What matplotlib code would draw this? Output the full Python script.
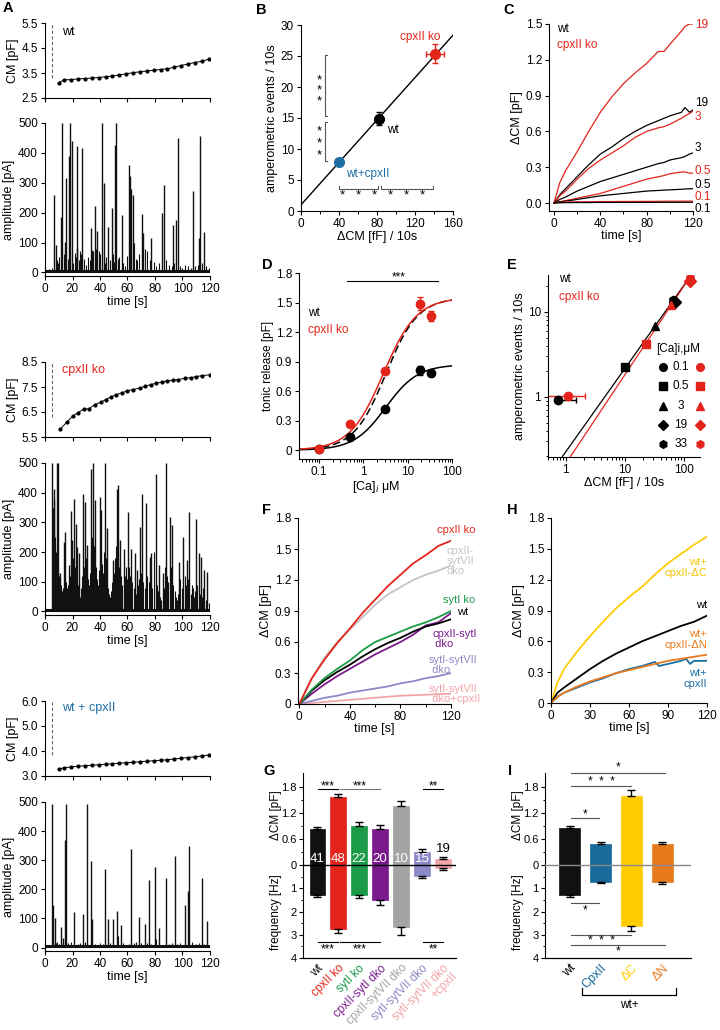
import matplotlib
matplotlib.use('Agg')
import matplotlib.pyplot as plt
import numpy as np
from matplotlib.ticker import MultipleLocator, FixedLocator, LogLocator, NullFormatter

plt.rcParams['font.family'] = ['Liberation Sans', 'DejaVu Sans']
plt.rcParams['font.size'] = 8.5
plt.rcParams['axes.linewidth'] = 0.8
for a in ('xtick', 'ytick'):
    plt.rcParams[a + '.major.size'] = 3
    plt.rcParams[a + '.minor.size'] = 1.8
    plt.rcParams[a + '.major.width'] = 0.8
    plt.rcParams[a + '.minor.width'] = 0.7
    plt.rcParams[a + '.labelsize'] = 8.5
    plt.rcParams[a + '.major.pad'] = 2
plt.rcParams['axes.labelsize'] = 9
plt.rcParams['axes.labelpad'] = 2

# ---------------------------------------------------------------- colours
RED = '#e3241b'; BLUE = '#1d6fa3'; GREEN = '#1b9a48'; PURPLE = '#7a1a8c'
LGREY = '#c4c4c4'; GREY = '#a3a3a3'; LAV = '#8c89c7'; PINK = '#f2a5a8'
YEL = '#ffcc00'; ORA = '#e87a1e'

# ---------------------------------------------------------------- DATA
# Panel A : membrane capacitance traces
cm_time = [10, 14, 19, 24, 29, 34, 39, 44, 49, 54, 59, 64, 69, 74, 79, 84, 89, 94, 99, 104, 109, 114, 119]
wt_cm = [3.12, 3.22, 3.24, 3.26, 3.28, 3.30, 3.32, 3.35, 3.38, 3.42, 3.47, 3.51, 3.55, 3.58, 3.61,
         3.64, 3.67, 3.73, 3.80, 3.86, 3.92, 3.97, 4.05]
ko_cm_time = [11, 16, 20, 24, 28, 32, 36, 41, 44, 48, 52, 56, 60, 64, 69, 73, 77, 81, 85, 89, 93, 97,
              102, 106, 110, 114, 120]
ko_cm = [5.81, 6.10, 6.33, 6.47, 6.61, 6.63, 6.79, 6.90, 7.00, 7.10, 7.20, 7.27, 7.35, 7.40, 7.46,
         7.53, 7.60, 7.65, 7.70, 7.74, 7.77, 7.80, 7.85, 7.87, 7.92, 7.95, 7.99]
wc_cm = [3.28, 3.33, 3.36, 3.39, 3.41, 3.43, 3.45, 3.47, 3.49, 3.51, 3.53, 3.55, 3.57, 3.59, 3.61,
         3.63, 3.65, 3.68, 3.71, 3.74, 3.77, 3.80, 3.84]
stim_time = 5
amp_baseline = 5

# Panel A : amperometric spikes (time s, amplitude pA)
wt_spikes = [(6.5, 259), (7.8, 91), (11.6, 187), (12.6, 500), (14.5, 102), (15.3, 317), (17.7, 391),
             (18.2, 500), (19.6, 440), (23.0, 424), (23.5, 83), (26.5, 60), (27.2, 417), (33.2, 147),
             (36.1, 222), (38.0, 137), (41.2, 500), (42.7, 300), (45.8, 152), (48.5, 215), (51.0, 428),
             (52.0, 500), (55.8, 191), (61.0, 359), (61.8, 322), (62.5, 278), (63.8, 259), (70.3, 194),
             (71.5, 133), (77.3, 115), (84.8, 200), (86.3, 291), (93.3, 157), (95.0, 175), (96.7, 450),
             (107.4, 272), (112.0, 114), (113.0, 455), (115.6, 136)]
wt_small = [(3, 10), (5, 15), (8.5, 40), (9.5, 30), (10.5, 50), (13.5, 60), (16.5, 45), (20.5, 30),
            (21.5, 65), (22.5, 50), (24.5, 40), (25.5, 70), (28.5, 45), (30, 25), (31.5, 50), (32.5, 40),
            (34, 75), (35, 70), (37, 80), (39, 70), (40, 60), (43.5, 30), (44.5, 50), (47, 40), (49.5, 60),
            (50, 35), (53, 45), (54, 50), (57, 30), (58.5, 20), (60, 55), (64.5, 100), (66, 45), (67, 40),
            (68.5, 60), (72.5, 80), (74, 70), (76, 40), (79, 35), (81, 20), (83, 30), (88, 40), (90, 25),
            (92, 20), (94, 30), (98, 20), (100, 15), (102, 25), (104, 20), (106, 15), (109, 20), (111, 25),
            (114.5, 30), (117, 20), (119, 15)]
ko_spikes = [(5.3, 500), (6.3, 414), (6.8, 380), (8.5, 500), (9.7, 500), (10.9, 128), (13.8, 235),
             (14.5, 268), (17.4, 157), (18.6, 338), (19.6, 240), (21.0, 380), (22.5, 296), (23.4, 218),
             (24.4, 196), (27.8, 397), (29.0, 369), (30.7, 225), (33.8, 481), (35.0, 500), (36.2, 375),
             (39.9, 386), (41.0, 341), (43.5, 500), (45.2, 280), (49.5, 173), (52.4, 414), (53.4, 425),
             (54.8, 240), (57.2, 212), (60.4, 336), (62.8, 212), (65.2, 196), (66.9, 140), (68.8, 285),
             (70.8, 397), (73.7, 364), (76.0, 185), (77.3, 196), (80.4, 464), (82.8, 157), (85.7, 128),
             (88.2, 500), (90.6, 319), (92.5, 291), (97.8, 168), (100.7, 252), (103.4, 173), (105.0, 336),
             (109.9, 313), (111.8, 196), (113.5, 185), (116.0, 140), (118.0, 134)]
ko_small = [(5.6, 350), (6.0, 300), (7.0, 250), (7.4, 230), (7.8, 200), (8.2, 180), (9.0, 160), (9.3, 150),
            (10.2, 120), (10.6, 110), (11.3, 90), (11.8, 80), (12.3, 70), (12.8, 60), (13.3, 80), (15.2, 100),
            (15.8, 80), (16.4, 70), (17.0, 90), (18.0, 120), (19.2, 150), (20.3, 180), (21.6, 150),
            (22.0, 120), (23.0, 100), (24.0, 90), (25.0, 60), (25.6, 50), (26.3, 80), (27.0, 120),
            (28.4, 150), (29.6, 180), (30.2, 120), (31.3, 110), (32.0, 90), (32.6, 130), (33.2, 200),
            (34.4, 250), (35.6, 220), (36.8, 150), (37.5, 110), (38.3, 90), (39.0, 140), (40.4, 180),
            (41.6, 160), (42.3, 130), (43.0, 200), (44.0, 180), (44.6, 120), (46.0, 80), (46.8, 60),
            (47.5, 50), (48.3, 70), (49.0, 100), (50.2, 130), (51.0, 180), (51.7, 220), (52.8, 200),
            (54.0, 150), (55.5, 120), (56.3, 90), (58.0, 120), (58.8, 150), (59.6, 110), (61.2, 150),
            (62.0, 120), (63.6, 100), (64.4, 80), (66.0, 60), (67.6, 90), (68.2, 110), (69.5, 130),
            (71.5, 100), (72.5, 80), (74.5, 120), (75.3, 100), (78.0, 80), (79.0, 200), (81.3, 90),
            (82.0, 70), (83.6, 50), (84.5, 40), (86.5, 80), (87.3, 150), (89.0, 120), (89.7, 100),
            (91.3, 150), (93.3, 90), (94.2, 70), (95.0, 50), (96.0, 40), (97.0, 60), (98.5, 110), (99.3, 80),
            (101.5, 120), (102.2, 90), (104.2, 110), (106.0, 60), (106.8, 90), (107.7, 80), (108.5, 50),
            (109.2, 70), (110.6, 90), (112.5, 60), (114.2, 50), (115.0, 80), (117.0, 40), (119.0, 30)]
wc_spikes = [(4.8, 492), (6.0, 145), (7.0, 100), (11.6, 71), (12.8, 32), (14.5, 368), (15.0, 492),
             (21.0, 122), (27.8, 114), (30.2, 492), (33.8, 297), (34.5, 97), (43.5, 271), (45.9, 99),
             (49.5, 99), (52.4, 124), (55.6, 77), (62.8, 340), (68.4, 105), (72.4, 82), (75.6, 232),
             (79.7, 278), (82.8, 68), (87.7, 238), (94.7, 314), (101.9, 145), (104.0, 195), (104.6, 348),
             (114.4, 238), (118.0, 90)]
wc_small = [(3, 10), (8, 15), (9, 20), (10, 12), (17, 15), (19, 20), (24, 12), (25.5, 15), (29, 20), (36, 12),
            (38, 10), (40, 15), (42, 12), (47, 15), (53, 40), (57, 15), (59, 10), (61, 12), (65, 15),
            (66.5, 20), (70, 15), (74, 15), (77, 12), (81, 30), (85, 10), (90, 12), (92, 15), (96, 12),
            (98, 15), (100, 10), (107, 18), (110, 12), (112, 15), (116, 12)]

# Panel B : events vs dCM
b_names = ['wt+cpxII', 'wt', 'cpxII ko']
b_dcm = [40, 82, 141]
b_dcm_err = [2.5, 3, 9]
b_events = [7.9, 14.9, 25.4]
b_events_err = [0.5, 1.0, 1.5]
b_fit = (1.0, 0.171)     # intercept, slope

# Panel C : dCM at various [Ca]i
c_t = [0, 5, 10, 20, 30, 40, 50, 60, 70, 80, 90, 95, 100, 110, 113, 117, 120]
c_ko19 = [0, 0.17, 0.27, 0.43, 0.6, 0.76, 0.89, 1.0, 1.09, 1.17, 1.27, 1.27, 1.33, 1.44, 1.48, 1.5, 1.5]
c_wt19 = [0, 0.07, 0.12, 0.22, 0.32, 0.41, 0.47, 0.54, 0.6, 0.65, 0.69, 0.71, 0.73, 0.76, 0.8, 0.76, 0.78]
c_ko3 = [0, 0.06, 0.1, 0.2, 0.29, 0.36, 0.42, 0.48, 0.55, 0.6, 0.63, 0.64, 0.66, 0.71, 0.73, 0.75, 0.77]
c_wt3 = [0, 0.03, 0.05, 0.1, 0.14, 0.18, 0.21, 0.24, 0.27, 0.3, 0.33, 0.34, 0.36, 0.38, 0.39, 0.41, 0.42]
c_ko05 = [0, 0.01, 0.02, 0.04, 0.06, 0.08, 0.11, 0.14, 0.17, 0.2, 0.22, 0.23, 0.245, 0.26, 0.26, 0.25, 0.25]
c_wt05 = [0, 0.01, 0.015, 0.03, 0.045, 0.06, 0.07, 0.08, 0.09, 0.1, 0.105, 0.108, 0.11, 0.115, 0.117, 0.119, 0.12]
c_ko01 = [0, 0.005, 0.008, 0.01, 0.01, 0.012, 0.012, 0.013, 0.013, 0.014, 0.014, 0.015, 0.015, 0.015, 0.016, 0.016, 0.016]
c_wt01 = [0, 0.002, 0.003, 0.004, 0.004, 0.005, 0.005, 0.005, 0.005, 0.005, 0.006, 0.006, 0.006, 0.006, 0.006, 0.006, 0.006]

# Panel D : tonic release vs [Ca]i
d_ca = [0.1, 0.5, 3, 19, 33]
d_wt = [0.01, 0.13, 0.42, 0.81, 0.78]
d_wt_err = [0.01, 0.02, 0.02, 0.05, 0.03]
d_ko = [0.01, 0.27, 0.80, 1.49, 1.36]
d_ko_err = [0.01, 0.02, 0.03, 0.07, 0.05]
d_fit_wt = (0.87, 3.2, 1.2)      # Vmax, K, n
d_fit_ko = (1.55, 2.8, 1.15)
d_fit_wt_scaled = (1.55, 3.2, 1.2)

# Panel E : events vs dCM (log-log)
e_labels = ['0.1', '0.5', '3', '19', '33']
e_markers = ['o', 's', '^', 'D', 'h']
e_wt_x = [0.75, 9.9, 32, 70, 66]
e_wt_y = [0.92, 2.25, 6.8, 13.0, 14.0]
e_ko_x = [1.09, 22.7, 60, 128, 125]
e_ko_y = [1.02, 4.16, 12.2, 23.0, 25.0]
e_wt_xerr = (0.0, 0.75)
e_ko_xerr = (0.6, 1.0)
e_fit_wt = (0.227, 0.98, 0.88, 150)   # a, b, xmin, xmax
e_fit_ko = (0.165, 1.045, 1.2, 150)

# Panel F
f_t = [0, 10, 20, 30, 40, 50, 60, 70, 80, 90, 100, 110, 120]
f_cpx = [0, 0.25, 0.43, 0.59, 0.73, 0.88, 1.01, 1.14, 1.25, 1.36, 1.44, 1.53, 1.58]
f_cpx_syt7 = [0, 0.25, 0.45, 0.6, 0.72, 0.84, 0.96, 1.06, 1.13, 1.2, 1.25, 1.29, 1.34]
f_syt1 = [0, 0.14, 0.25, 0.34, 0.42, 0.52, 0.6, 0.65, 0.7, 0.75, 0.79, 0.84, 0.9]
f_wt = [0, 0.13, 0.23, 0.31, 0.38, 0.46, 0.53, 0.59, 0.64, 0.7, 0.75, 0.78, 0.82]
f_cpx_syt1 = [0, 0.1, 0.19, 0.27, 0.34, 0.41, 0.48, 0.54, 0.6, 0.67, 0.76, 0.79, 0.88]
f_syt1_syt7 = [0, 0.03, 0.06, 0.08, 0.11, 0.13, 0.15, 0.17, 0.2, 0.22, 0.25, 0.27, 0.3]
f_syt1_syt7_cpx = [0, 0.01, 0.02, 0.03, 0.04, 0.05, 0.06, 0.07, 0.08, 0.085, 0.09, 0.095, 0.1]

# Panel H
h_t = [0, 5, 10, 20, 30, 40, 50, 60, 70, 80, 90, 100, 110, 120]
h_dC = [0, 0.2, 0.33, 0.5, 0.65, 0.79, 0.92, 1.03, 1.13, 1.25, 1.36, 1.45, 1.54, 1.62]
h_wt = [0, 0.1, 0.15, 0.24, 0.33, 0.41, 0.48, 0.54, 0.6, 0.65, 0.7, 0.75, 0.79, 0.85]
h_dN = [0, 0.06, 0.1, 0.16, 0.21, 0.25, 0.29, 0.32, 0.35, 0.38, 0.41, 0.43, 0.45, 0.47]
h_cpx_t = [0, 5, 10, 20, 30, 40, 50, 60, 70, 80, 83, 90, 100, 104, 107, 110, 120]
h_cpx = [0, 0.06, 0.1, 0.15, 0.2, 0.24, 0.29, 0.33, 0.36, 0.40, 0.36, 0.38, 0.41, 0.43, 0.38, 0.41, 0.41]

# Panel G
g_names = ['wt', 'cpxII ko', 'sytI ko', 'cpxII-sytI dko', 'cpxII-sytVII dko', 'sytI-sytVII dko',
           'sytI-sytVII dko\n+cpxII']
g_cols = ['#111111', RED, GREEN, PURPLE, GREY, LAV, PINK]
g_dcm = [0.82, 1.56, 0.89, 0.82, 1.35, 0.30, 0.13]
g_dcm_err = [0.05, 0.08, 0.10, 0.10, 0.13, 0.06, 0.05]
g_freq = [1.30, 2.74, 1.30, 1.50, 2.68, 0.47, 0.15]
g_freq_err = [0.09, 0.17, 0.10, 0.20, 0.34, 0.09, 0.06]
g_n = ['41', '48', '22', '20', '10', '15', '19']

# Panel I
i_names = ['wt', 'CpxII', 'ΔC', 'ΔN']
i_cols = ['#111111', '#1a6a9c', '#ffcc00', '#e87a1e']
i_dcm = [0.85, 0.48, 1.60, 0.48]
i_dcm_err = [0.04, 0.05, 0.14, 0.06]
i_freq = [1.30, 0.72, 2.63, 0.72]
i_freq_err = [0.08, 0.07, 0.23, 0.10]

HZ = 0.5365   # drawing scale of frequency half relative to pF half

# ---------------------------------------------------------------- figure helpers
W, H = 720, 1030
fig = plt.figure(figsize=(W / 100, H / 100), dpi=100)


def axpx(l, t, r, b):
    return fig.add_axes([l / W, 1 - b / H, (r - l) / W, (b - t) / H])


def ftext(x, y, s, **kw):
    fig.text(x / W, 1 - y / H, s, **kw)


def clean(ax):
    ax.spines['top'].set_visible(False)
    ax.spines['right'].set_visible(False)
    ax.patch.set_alpha(0)


for lab, (x, y) in {'A': (3, 8), 'B': (256, 10), 'C': (503, 10), 'D': (262, 265), 'E': (507, 265),
                    'F': (262, 510), 'H': (507, 510), 'G': (263, 771), 'I': (508, 771)}.items():
    ftext(x, y, lab, fontsize=10.5, fontweight='bold', ha='left', va='center')

# ---------------------------------------------------------------- panel A


def panel_a(cm_rect, amp_rect, cmt, cmv, ylim, yt, dash_lo, lab, lab_col, lab_y, spikes, small):
    ax = axpx(*cm_rect)
    clean(ax)
    ax.plot(cmt, cmv, color='k', lw=0.7, marker='o', ms=2.0)
    ax.vlines([stim_time], dash_lo, ylim[1] - 0.05, colors='#666666', linestyles=(0, (3, 2)), lw=0.8)
    ax.set_xlim(0, 120)
    ax.set_ylim(*ylim)
    ax.set_xticks(range(0, 121, 20))
    ax.set_xticklabels([])
    ax.set_yticks(yt)
    ax.set_yticklabels(['%.1f' % v for v in yt])
    ax.set_ylabel('CM [pF]')
    ax.text(0.105, lab_y, lab, color=lab_col, transform=ax.transAxes, fontsize=9, va='center')

    ax2 = axpx(*amp_rect)
    clean(ax2)
    st, sa = zip(*small)
    ax2.vlines(st, amp_baseline, sa, colors='#111111', lw=0.8)
    bt, ba = zip(*spikes)
    ax2.vlines(bt, amp_baseline, ba, colors='#111111', lw=1.0)
    ax2.hlines(amp_baseline, 0, 120, colors='#111111', lw=2.2)
    ax2.set_xlim(0, 120)
    ax2.set_ylim(-12, 500)
    ax2.set_yticks(range(0, 501, 100))
    ax2.set_xticks(range(0, 121, 20))
    ax2.set_xlabel('time [s]', labelpad=1)
    ax2.set_ylabel('amplitude [pA]')


panel_a((45, 23, 210, 98), (45, 123, 210, 276), cm_time, wt_cm, (2.5, 5.5), [2.5, 3.5, 4.5, 5.5], 3.3,
        'wt', 'k', 0.88, wt_spikes, wt_small)
panel_a((45, 362, 210, 437), (45, 463, 210, 615), ko_cm_time, ko_cm, (5.5, 8.5), [5.5, 6.5, 7.5, 8.5], 6.3,
        'cpxII ko', RED, 0.9, ko_spikes, ko_small)
panel_a((45, 701, 210, 776), (45, 802, 210, 951), cm_time, wc_cm, (3.0, 6.0), [3.0, 4.0, 5.0, 6.0], 3.85,
        'wt + cpxII', BLUE, 0.9, wc_spikes, wc_small)

# ---------------------------------------------------------------- panel B
ax = axpx(301, 25, 453, 211)
clean(ax)
xx = np.array([0, 160])
ax.plot(xx, b_fit[0] + b_fit[1] * xx, color='k', lw=1.0)
for i, c in enumerate([BLUE, 'k', RED]):
    ax.errorbar(b_dcm[i], b_events[i], xerr=b_dcm_err[i], yerr=b_events_err[i], fmt='o', color=c,
                ms=7, elinewidth=1, capsize=2, capthick=1, zorder=3)
ax.text(125.8, 28.1, 'cpxII ko', color=RED, ha='center', va='center', fontsize=8.5)
ax.text(91, 13.0, 'wt', color='k', ha='left', va='center', fontsize=8.5)
ax.text(70, 6.0, 'wt+cpxII', color=BLUE, ha='center', va='center', fontsize=8.5)
# significance brackets
for y0, y1 in [(15.3, 25.2), (8.1, 14.3)]:
    ax.plot([27.5, 25.5, 25.5, 27.5], [y0, y0, y1, y1], color='#555555', lw=0.8)
for ys in [(21.6, 19.9, 18.1), (13.3, 11.4, 9.5)]:
    for y in ys:
        ax.text(19.5, y - 0.5, '*', ha='center', va='center', fontsize=9.5)
for x0, x1 in [(40, 81), (84, 139)]:
    ax.plot([x0, x0, x1, x1], [4.1, 3.6, 3.6, 4.1], color='#555555', lw=0.8)
    ax.text((x0 + x1) / 2, 2.4, '*   *   *', ha='center', va='center', fontsize=9.5)
ax.set_xlim(0, 160)
ax.set_ylim(0, 30)
ax.set_xticks(range(0, 161, 40))
ax.xaxis.set_minor_locator(MultipleLocator(20))
ax.set_yticks(range(0, 31, 5))
ax.set_xlabel('ΔCM [fF] / 10s', labelpad=1)
ax.set_ylabel('amperometric events / 10s')

# ---------------------------------------------------------------- panel C
ax = axpx(549, 24, 693, 211)
clean(ax)
c_curves = [(c_ko19, RED, '19', 1.49), (c_wt19, 'k', '19', 0.84), (c_ko3, RED, '3', 0.72),
            (c_wt3, 'k', '3', 0.46), (c_ko05, RED, '0.5', 0.27), (c_wt05, 'k', '0.5', 0.15),
            (c_ko01, RED, '0.1', 0.05), (c_wt01, 'k', '0.1', -0.05)]
for ys, col, lab, ly in c_curves:
    ax.plot(c_t, ys, color=col, lw=0.9)
    ax.text(121.5, ly, lab, color=col, fontsize=8.5, va='center', ha='left', clip_on=False)
ax.text(2.5, 1.46, 'wt', color='k', fontsize=8.5, va='center')
ax.text(2.5, 1.32, 'cpxII ko', color=RED, fontsize=8.5, va='center')
ax.set_xlim(-4.3, 120)
ax.set_ylim(-0.067, 1.5)
ax.spines['bottom'].set_bounds(-4.3, 120)
ax.set_xticks([0, 40, 80, 120])
ax.xaxis.set_minor_locator(FixedLocator([20, 60, 100]))
ax.set_yticks([0, 0.3, 0.6, 0.9, 1.2, 1.5])
ax.set_yticklabels(['0.0', '0.3', '0.6', '0.9', '1.2', '1.5'])
ax.set_xlabel('time [s]', labelpad=0)
ax.set_ylabel('ΔCM [pF]')

# ---------------------------------------------------------------- panel D
ax = axpx(299, 273, 452, 459)
clean(ax)
cc = np.logspace(np.log10(0.035), 2, 300)


def hill(p, x):
    return p[0] / (1 + (p[1] / x) ** p[2])


ax.plot(cc, hill(d_fit_wt, cc), color='k', lw=1.1)
ax.plot(cc, hill(d_fit_wt_scaled, cc), color='k', lw=1.1, ls=(0, (5, 2.5)))
ax.plot(cc, hill(d_fit_ko, cc), color=RED, lw=1.1)
ax.errorbar(d_ca, d_wt, yerr=d_wt_err, fmt='o', color='k', ms=6, capsize=2, elinewidth=1, zorder=3)
ax.errorbar(d_ca, d_ko, yerr=d_ko_err, fmt='o', color=RED, ms=6, capsize=2, elinewidth=1, zorder=4)
ax.plot([0.42, 49], [1.72, 1.72], color='k', lw=0.8)
ax.text(6.2, 1.75, '***', ha='center', va='center', fontsize=8.5)
ax.text(0.057, 1.39, 'wt', color='k', fontsize=8.5, va='center')
ax.text(0.057, 1.22, 'cpxII ko', color=RED, fontsize=8.5, va='center')
ax.set_xscale('log')
ax.set_xlim(0.035, 100)
ax.set_ylim(-0.09, 1.8)
ax.set_xticks([0.1, 1, 10, 100])
ax.set_xticklabels(['0.1', '1', '10', '100'])
ax.xaxis.set_minor_locator(LogLocator(base=10, subs=np.arange(2, 10) * 1.0, numticks=20))
ax.xaxis.set_minor_formatter(NullFormatter())
ax.set_yticks([0, 0.3, 0.6, 0.9, 1.2, 1.5, 1.8])
ax.set_yticklabels(['0', '0.3', '0.6', '0.9', '1.2', '1.5', '1.8'])
ax.set_xlabel('[Ca]$_i$ μM', labelpad=1)
ax.set_ylabel('tonic release [pF]', labelpad=1, fontsize=8.5)

# ---------------------------------------------------------------- panel E
ax = axpx(548, 275, 700, 457)
clean(ax)
for (a, b, x0, x1), col in [(e_fit_wt, 'k'), (e_fit_ko, RED)]:
    xs = np.logspace(np.log10(x0), np.log10(x1), 50)
    ax.plot(xs, a * xs ** b, color=col, lw=0.9)
ax.errorbar([e_wt_x[0]], [e_wt_y[0]], xerr=[[e_wt_xerr[0]], [e_wt_xerr[1]]], fmt='none', ecolor='k',
            elinewidth=1, capsize=2)
ax.errorbar([e_ko_x[0]], [e_ko_y[0]], xerr=[[e_ko_xerr[0]], [e_ko_xerr[1]]], fmt='none', ecolor=RED,
            elinewidth=1, capsize=2)
for i, m in enumerate(e_markers):
    ax.plot(e_wt_x[i], e_wt_y[i], marker=m, color='k', ms=6, ls='none', zorder=3)
    ax.plot(e_ko_x[i], e_ko_y[i], marker=m, color=RED, ms=6, ls='none', zorder=4)
ax.set_xscale('log')
ax.set_yscale('log')
ax.set_xlim(0.5, 186)
ax.set_ylim(0.197, 27.2)
ax.set_xticks([1, 10, 100])
ax.set_xticklabels(['1', '10', '100'])
ax.set_yticks([1, 10])
ax.set_yticklabels(['1', '10'])
for axis in (ax.xaxis, ax.yaxis):
    axis.set_minor_locator(LogLocator(base=10, subs=np.arange(2, 10) * 1.0, numticks=20))
    axis.set_minor_formatter(NullFormatter())
ax.set_xlabel('ΔCM [fF] / 10s', labelpad=1)
ax.set_ylabel('amperometric events / 10s', labelpad=1)
ax.text(0.07, 0.98, 'wt', color='k', fontsize=8.5, transform=ax.transAxes, va='center')
ax.text(0.07, 0.88, 'cpxII ko', color=RED, fontsize=8.5, transform=ax.transAxes, va='center')
# manual legend
lx = lambda px: (px - 548) / 152
ly = lambda py: (457 - py) / 182
ax.text(lx(678), ly(349), '[Ca]i,μM', transform=ax.transAxes, ha='center', va='center', fontsize=8.5)
for i, (m, lab) in enumerate(zip(e_markers, e_labels)):
    y = ly(367 + i * 19.3)
    ax.plot(lx(663), y, marker=m, color='k', ms=5.5, transform=ax.transAxes, clip_on=False)
    ax.plot(lx(700), y, marker=m, color=RED, ms=5.5, transform=ax.transAxes, clip_on=False)
    ax.text(lx(681), y, lab, transform=ax.transAxes, ha='center', va='center', fontsize=8.5)

# ---------------------------------------------------------------- panel F
ax = axpx(298, 518, 451, 704)
clean(ax)
f_curves = [(f_syt1_syt7_cpx, PINK), (f_syt1_syt7, LAV), (f_cpx_syt7, LGREY), (f_cpx_syt1, PURPLE),
            (f_wt, 'k'), (f_syt1, GREEN), (f_cpx, RED)]
for ys, col in f_curves:
    ax.plot(f_t, ys, color=col, lw=1.3)
ax.text(139.3, 1.68, 'cpxII ko', color=RED, ha='right', va='center', fontsize=8, clip_on=False)
ax.text(116.8, 1.38, 'cpxII-\nsytVII\ndko', color=LGREY, ha='left', va='center', fontsize=8,
        linespacing=1.0)
ax.text(139.3, 1.01, 'sytI ko', color=GREEN, ha='right', va='center', fontsize=8)
ax.text(129.5, 0.89, 'wt', color='k', ha='center', va='center', fontsize=8)
ax.text(105, 0.63, 'cpxII-sytI\n dko', color=PURPLE, ha='left', va='center', fontsize=8, linespacing=1.0)
ax.text(102.3, 0.38, 'sytI-sytVII\n dko', color=LAV, ha='left', va='center', fontsize=8, linespacing=1.0)
ax.text(102.3, 0.10, 'sytI-sytVII\n dko+cpxII', color=PINK, ha='left', va='center', fontsize=8,
        linespacing=1.0)
ax.set_xlim(-1, 120)
ax.set_ylim(0, 1.8)
ax.set_xticks([0, 40, 80, 120])
ax.xaxis.set_minor_locator(FixedLocator([20, 60, 100]))
ax.set_yticks([0, 0.3, 0.6, 0.9, 1.2, 1.5, 1.8])
ax.set_yticklabels(['0', '0.3', '0.6', '0.9', '1.2', '1.5', '1.8'])
ax.set_xlabel('time [s]', labelpad=0)
ax.set_ylabel('ΔCM [pF]')

# ---------------------------------------------------------------- panel H
ax = axpx(551, 518, 707, 703)
clean(ax)
ax.plot(h_t, h_dC, color=YEL, lw=1.3)
ax.plot(h_t, h_wt, color='k', lw=1.3)
ax.plot(h_cpx_t, h_cpx, color=BLUE, lw=1.3)
ax.plot(h_t, h_dN, color=ORA, lw=1.3)
ax.text(120, 1.32, 'wt+\ncpxII-ΔC', color='#f5c400', ha='right', va='center', fontsize=8,
        multialignment='right', linespacing=1.1)
ax.text(120, 0.95, 'wt', color='k', ha='right', va='center', fontsize=8)
ax.text(120, 0.62, 'wt+\ncpxII-ΔN', color=ORA, ha='right', va='center', fontsize=8,
        multialignment='right', linespacing=1.1)
ax.text(120, 0.24, 'wt+\ncpxII', color=BLUE, ha='right', va='center', fontsize=8,
        multialignment='right', linespacing=1.1)
ax.set_xlim(0, 120)
ax.set_ylim(0, 1.8)
ax.set_xticks([0, 30, 60, 90, 120])
ax.set_yticks([0, 0.3, 0.6, 0.9, 1.2, 1.5, 1.8])
ax.set_yticklabels(['0', '0.3', '0.6', '0.9', '1.2', '1.5', '1.8'])
ax.set_xlabel('time [s]', labelpad=0)
ax.set_ylabel('ΔCM [pF]')


# ---------------------------------------------------------------- bar panels G & I
def bar_axis(ax, zero_col):
    clean(ax)
    ax.axhline(0, color=zero_col, lw=1.0, zorder=5)
    ax.set_ylim(-4 * HZ, 2.123)
    ax.set_yticks([-4 * HZ, -3 * HZ, -2 * HZ, -HZ, 0, 0.6, 1.2, 1.8])
    ax.set_yticklabels(['4', '3', '2', '1', '0', '0.6', '1.2', '1.8'])
    ax.yaxis.set_minor_locator(FixedLocator([0.3, 0.9, 1.5, -0.5 * HZ, -1.5 * HZ, -2.5 * HZ, -3.5 * HZ]))
    ax.tick_params(axis='x', length=0, pad=3)
    ax.tick_params(axis='y', labelsize=8, pad=1.5)
    ax.spines['bottom'].set_linewidth(0.9)


def bars(ax, x, dcm, dcm_err, freq, freq_err, cols, width):
    for i in range(len(x)):
        ax.bar(x[i], dcm[i], width=width, color=cols[i], edgecolor=cols[i], lw=0.5, zorder=2)
        ax.bar(x[i], -freq[i] * HZ, width=width, color=cols[i], edgecolor=cols[i], lw=0.5, zorder=2)
        ax.errorbar(x[i], dcm[i], yerr=[[0], [dcm_err[i]]], fmt='none', ecolor='k', elinewidth=1,
                    capsize=3, capthick=1, zorder=3)
        ax.errorbar(x[i], -freq[i] * HZ, yerr=[[freq_err[i] * HZ], [0]], fmt='none', ecolor='k',
                    elinewidth=1, capsize=3, capthick=1, zorder=3)


def sig(ax, x0, x1, y, ty, s, col='k'):
    ax.plot([x0, x1], [y, y], color=col, lw=0.8, clip_on=False)
    ax.text((x0 + x1) / 2, ty, s, ha='center', va='center', fontsize=8.5, clip_on=False)


# G
ax = axpx(303, 773, 456, 958)
gx = np.arange(len(g_names))
bar_axis(ax, 'k')
bars(ax, gx, g_dcm, g_dcm_err, g_freq, g_freq_err, g_cols, 0.72)
for i in range(6):
    ax.text(gx[i], 0.15, g_n[i], color='white', ha='center', va='center', fontsize=9.5, zorder=6)
ax.text(gx[6], 0.36, g_n[6], color='k', ha='center', va='center', fontsize=9.5, zorder=6)
sig(ax, 0.05, 1.0, 1.75, 1.81, '***')
sig(ax, 1.1, 3.0, 1.75, 1.81, '***', '#777777')
sig(ax, 5.05, 6.0, 1.75, 1.81, '**')
sig(ax, 0.05, 1.0, -3.32 * HZ, -3.62 * HZ, '***')
sig(ax, 1.1, 3.0, -3.32 * HZ, -3.62 * HZ, '***')
sig(ax, 5.05, 6.0, -3.32 * HZ, -3.62 * HZ, '**')
ax.set_xlim(-0.67, 6.62)
ax.set_xticks(gx)
ax.set_xticklabels(g_names, rotation=45, ha='right', va='top', rotation_mode='anchor',
                   fontsize=8.5, multialignment='right', linespacing=0.95)
for t, c in zip(ax.get_xticklabels(), g_cols):
    t.set_color(c)
ftext(276, 815, 'ΔCM [pF]', rotation=90, ha='center', va='center', fontsize=8.5)
ftext(276, 912, 'frequency [Hz]', rotation=90, ha='center', va='center', fontsize=8.5)

# I
ax = axpx(545, 773, 691, 958)
ix = np.arange(len(i_names))
bar_axis(ax, '#888888')
bars(ax, ix, i_dcm, i_dcm_err, i_freq, i_freq_err, i_cols, 0.68)
sig(ax, 0.05, 3.1, 2.13, 2.24, '*', '#555555')
sig(ax, 0.05, 1.98, 1.82, 1.92, '*  *  *', '#555555')
sig(ax, 0.05, 0.95, 1.08, 1.17, '*', '#555555')
sig(ax, 0.05, 0.95, -1.62 * HZ, -1.96 * HZ, '*', '#555555')
sig(ax, 0.05, 1.98, -3.01 * HZ, -3.25 * HZ, '*  *  *', '#555555')
sig(ax, 0.05, 3.1, -3.44 * HZ, -3.72 * HZ, '*', '#555555')
ax.set_xlim(-0.81, 3.94)
ax.set_xticks(ix)
ax.set_xticklabels(i_names, rotation=45, ha='right', va='top', rotation_mode='anchor', fontsize=9)
for t, c in zip(ax.get_xticklabels(), ['k', '#1a6a9c', '#ffcc00', '#e87a1e']):
    t.set_color(c)
ftext(518, 815, 'ΔCM [pF]', rotation=90, ha='center', va='center', fontsize=8.5)
ftext(518, 912, 'frequency [Hz]', rotation=90, ha='center', va='center', fontsize=8.5)
# bracket under the wt+ groups
ax_br = fig.add_axes([0, 0, 1, 1], facecolor='none')
ax_br.set_axis_off()
ax_br.set_xlim(0, W)
ax_br.set_ylim(H, 0)
ax_br.plot([582, 582, 676, 676], [988, 995, 995, 988], color='k', lw=0.9)
ax_br.text(629, 1005, 'wt+', ha='center', va='center', fontsize=8.5)

fig.savefig('out.png', dpi=100)
